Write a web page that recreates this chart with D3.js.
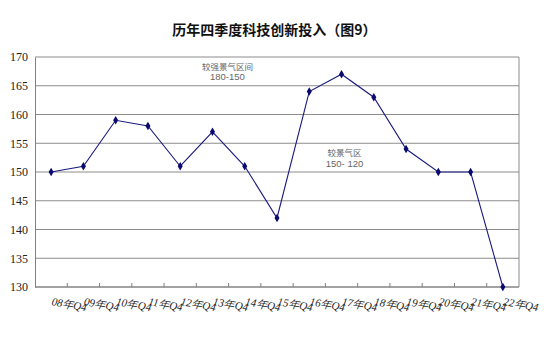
<!DOCTYPE html>
<html>
<head>
<meta charset="utf-8">
<script src="https://cdn.jsdelivr.net/npm/d3@7"></script>
<style>
  body { margin: 0; background: #fff; }
  svg { display: block; }
</style>
</head>
<body>
<div id="chart"></div>
<script>
'use strict';

// chart data
var quarters = ['08年Q4', '09年Q4', '10年Q4', '11年Q4', '12年Q4', '13年Q4', '14年Q4',
  '15年Q4', '16年Q4', '17年Q4', '18年Q4', '19年Q4', '20年Q4', '21年Q4', '22年Q4'];
var investIndex = [150, 151, 159, 158, 151, 157, 151, 142, 164, 167, 163, 154, 150, 150, 130];
var yTicks = [130, 135, 140, 145, 150, 155, 160, 165, 170];
var title = '历年四季度科技创新投入（图9）';
var zoneNotes = [
  { lines: ['较强景气区间', '180-150'], at: '13年Q4', dx: 15, v: 167.8 },
  { lines: ['较景气区', '150- 120'], at: '17年Q4', dx: 3, v: 152.7 }
];

var W = 549, H = 339,
    margin = { top: 57, right: 30, bottom: 52, left: 35 },
    innerW = W - margin.left - margin.right,
    innerH = H - margin.top - margin.bottom;

var svg = d3.select('#chart').append('svg')
  .attr('width', W)
  .attr('height', H);

svg.append('text')
  .attr('x', W / 2)
  .attr('y', 35)
  .attr('text-anchor', 'middle')
  .style('font-family', '"Noto Sans CJK SC", sans-serif')
  .style('font-size', '14px')
  .style('font-weight', 'bold')
  .style('fill', '#111')
  .text(title);

var g = svg.append('g')
  .attr('transform', 'translate(' + margin.left + ',' + margin.top + ')');

var x = d3.scaleBand()
  .domain(quarters)
  .range([0, innerW]);

var y = d3.scaleLinear()
  .domain([130, 170])
  .range([innerH, 0]);

function cx(q) { return x(q) + x.bandwidth() / 2; }

// gridlines
g.selectAll('line.grid')
  .data(yTicks)
  .enter().append('line')
    .attr('class', 'grid')
    .attr('x1', 0)
    .attr('x2', innerW)
    .attr('y1', function (d) { return y(d); })
    .attr('y2', function (d) { return y(d); })
    .style('stroke', '#8c8c8c')
    .style('stroke-width', 1);

// right border
g.append('line')
  .attr('x1', innerW).attr('x2', innerW)
  .attr('y1', 0).attr('y2', innerH)
  .style('stroke', '#8c8c8c');

// y axis
var yAxis = g.append('g')
  .call(d3.axisLeft(y).tickValues(yTicks).tickSize(0).tickPadding(7));
yAxis.select('.domain').style('stroke', '#808080');
yAxis.selectAll('text')
  .style('font-family', '"Liberation Serif", serif')
  .style('font-size', '12px')
  .style('fill', '#222');

// x axis: ticks between categories, pointing inward
var xAxis = g.append('g')
  .attr('transform', 'translate(0,' + innerH + ')');
xAxis.append('line')
  .attr('x1', 0).attr('x2', innerW)
  .style('stroke', '#808080');
xAxis.selectAll('line.tick')
  .data(quarters.slice(1))
  .enter().append('line')
    .attr('class', 'tick')
    .attr('x1', function (d) { return x(d); })
    .attr('x2', function (d) { return x(d); })
    .attr('y1', 0)
    .attr('y2', -4)
    .style('stroke', '#808080');

xAxis.selectAll('text')
  .data(quarters)
  .enter().append('text')
    .attr('transform', function (d) {
      return 'translate(' + cx(d) + ',18) rotate(10)';
    })
    .attr('text-anchor', 'start')
    .style('font-family', '"Liberation Serif", serif')
    .style('font-style', 'italic')
    .style('font-size', '11px')
    .style('fill', '#222')
    .text(function (d) { return d; });

// zone notes: CJK line, then the range in a latin font
zoneNotes.forEach(function (n) {
  n.lines.forEach(function (s, i) {
    g.append('text')
      .attr('x', cx(n.at) + n.dx)
      .attr('y', y(n.v) + i * 10.5)
      .attr('text-anchor', 'middle')
      .style('font-family', i === 0 ? '"Noto Sans CJK SC", sans-serif' : '"Liberation Sans", sans-serif')
      .style('font-size', i === 0 ? '8.5px' : '9.5px')
      .style('fill', '#666')
      .text(s);
  });
});

// series line
var line = d3.line()
  .x(function (d, i) { return cx(quarters[i]); })
  .y(function (d) { return y(d); });

g.append('path')
  .datum(investIndex)
  .attr('d', line)
  .style('fill', 'none')
  .style('stroke', '#1a1a80')
  .style('stroke-width', 1.1);

g.selectAll('path.dot')
  .data(investIndex)
  .enter().append('path')
    .attr('class', 'dot')
    .attr('d', d3.symbol().type(d3.symbolDiamond).size(22))
    .attr('transform', function (d, i) {
      return 'translate(' + cx(quarters[i]) + ',' + y(d) + ')';
    })
    .style('fill', '#0a0a70');
</script>
</body>
</html>
